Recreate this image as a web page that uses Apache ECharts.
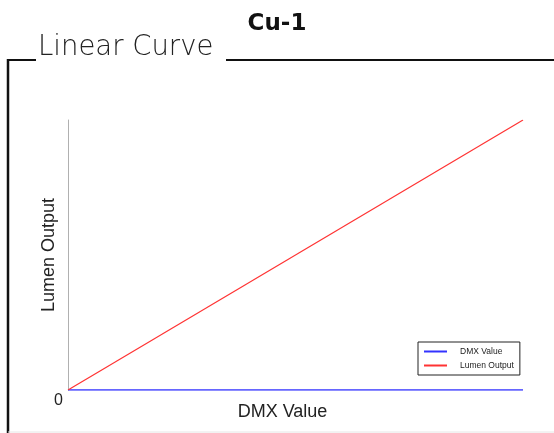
<!DOCTYPE html>
<html>
<head>
<meta charset="utf-8">
<script src="https://cdn.jsdelivr.net/npm/echarts@6/dist/echarts.min.js"></script>
<style>
  html, body { margin: 0; padding: 0; background: #fff; }
  #chart { width: 554px; height: 433px; }
</style>
</head>
<body>
<div id="chart"></div>
<script>
// 数据
const dmxSteps = [0, 255];
const dmxValue = [0, 0];
const lumenOutput = [0, 100];
const seriesNames = ['DMX Value', 'Lumen Output'];

const chart = echarts.init(document.getElementById('chart'));

const option = {
  animation: false,
  title: {
    text: 'Cu-1',
    left: 'center',
    top: 8,
    textStyle: { fontFamily: 'DejaVu Sans', fontWeight: 'bold', fontSize: 23, color: '#111' }
  },
  graphic: [
    // 外框
    { type: 'line', shape: { x1: 8, y1: 60, x2: 36, y2: 60 }, style: { stroke: '#111', lineWidth: 2 } },
    { type: 'line', shape: { x1: 226, y1: 60, x2: 554, y2: 60 }, style: { stroke: '#111', lineWidth: 2 } },
    { type: 'line', shape: { x1: 8, y1: 59, x2: 8, y2: 433 }, style: { stroke: '#111', lineWidth: 2.5 } },
    { type: 'line', shape: { x1: 8, y1: 432, x2: 554, y2: 432 }, style: { stroke: '#e6e6e6', lineWidth: 1 } },
    {
      type: 'text', left: 38, top: 34,
      style: { text: 'Linear Curve', fontFamily: 'DejaVu Sans', fontWeight: 200, fontSize: 27.5, fill: '#222' }
    }
  ],
  legend: {
    data: seriesNames,
    orient: 'vertical',
    left: 418,
    top: 342,
    itemWidth: 23,
    itemHeight: 2,
    itemGap: 5,
    padding: [5, 6, 5, 6],
    borderColor: '#222',
    borderWidth: 1,
    icon: 'rect',
    textStyle: { fontFamily: 'Liberation Sans', fontSize: 8.5, color: '#222', padding: [0, 0, 0, 8] }
  },
  grid: { left: 68, right: 31, top: 120, bottom: 43, containLabel: false },
  xAxis: {
    type: 'value',
    min: 0,
    max: 255,
    name: 'DMX Value',
    nameLocation: 'middle',
    nameGap: 13,
    nameMoveOverlap: false,
    nameTextStyle: { fontFamily: 'Liberation Sans', fontSize: 18, color: '#222', padding: [0, 26, 0, 0] },
    axisLine: { show: false },
    axisTick: { show: false },
    axisLabel: { show: false },
    splitLine: { show: false }
  },
  yAxis: {
    type: 'value',
    min: 0,
    max: 100,
    name: 'Lumen Output',
    nameLocation: 'middle',
    nameGap: 10,
    nameMoveOverlap: false,
    nameTextStyle: { fontFamily: 'Liberation Sans', fontSize: 18, color: '#222' },
    axisLine: { show: true, lineStyle: { color: '#b0b0b0', width: 1 } },
    axisTick: { show: false },
    splitLine: { show: false },
    axisLabel: {
      fontFamily: 'Liberation Sans',
      fontSize: 16,
      color: '#222',
      margin: 5,
      verticalAlign: 'top',
      padding: [3, 0, 0, 0],
      formatter: function (v) { return v === 0 ? '0' : ''; }
    }
  },
  series: [
    {
      name: seriesNames[0],
      type: 'line',
      data: dmxSteps.map((x, i) => [x, dmxValue[i]]),
      showSymbol: false,
      lineStyle: { color: '#3333ff', width: 1.5 },
      itemStyle: { color: '#3333ff' }
    },
    {
      name: seriesNames[1],
      type: 'line',
      data: dmxSteps.map((x, i) => [x, lumenOutput[i]]),
      showSymbol: false,
      lineStyle: { color: '#ff3333', width: 1.2 },
      itemStyle: { color: '#ff3333' }
    }
  ]
};

chart.setOption(option);
window.onresize = chart.resize;
</script>
</body>
</html>
